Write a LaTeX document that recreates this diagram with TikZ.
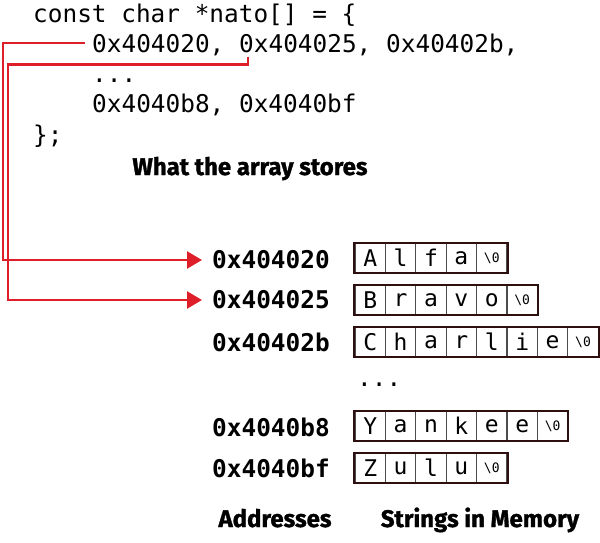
\documentclass[tikz,border=0pt]{standalone}
\usepackage{fontspec}
\usepackage{tikz}
\usepackage{xcolor}
\usetikzlibrary{
    arrows.meta,
    calc
}
\setmonofont{DejaVu Sans Mono}
\newfontfamily\labelfont{Fira Sans}[BoldFeatures={FakeBold=1.3}]
\definecolor{ptrred}{RGB}{222,30,40}
\definecolor{boxedge}{RGB}{45,15,15}
\newcommand{\nulchar}{{\fontsize{13}{13}\selectfont\textbackslash0}}

\tikzset{
    code/.style={font=\ttfamily\fontsize{24.4}{24.4}\selectfont, inner sep=0pt, anchor=base west},
    addr/.style={font=\ttfamily\bfseries\fontsize{24.4}{24.4}\selectfont, inner sep=0pt, anchor=west},
    cell/.style={draw=black!70, line width=1.1pt, fill=white, minimum width=30.4pt, minimum height=29pt,
        inner sep=0pt, font=\ttfamily\fontsize{23}{23}\selectfont},
    rowbox/.style={draw=boxedge, line width=2pt},
    caption/.style={font=\labelfont\bfseries\fontsize{24}{24}\selectfont, inner sep=0pt, anchor=base},
    ptr/.style={draw=ptrred, line width=2.4pt, -{Triangle[length=15pt,width=17pt]}}
}

\begin{document}
\begin{tikzpicture}[x=1pt, y=-1pt]
    \useasboundingbox (0, 0) rectangle (600, 543);

    % the source code
    \node[code] (l1) at (33, 23) {const char *nato[] = \{};
    \node[code] (v1) at (92, 53) {0x404020,};
    \node[code] (v2) at (239, 53) {0x404025,};
    \node[code] (v3) at (386, 53) {0x40402b,};
    \node[code] (l3) at (92, 83) {...};
    \node[code] (l4) at (92, 113) {0x4040b8, 0x4040bf};
    \node[code] (l5) at (33, 143) {\};};

    \node[caption] (stores) at (250, 175) {What the array stores};

    % addresses
    \node[addr] (a1) at (212, 260) {0x404020};
    \node[addr] (a2) at (212, 300) {0x404025};
    \node[addr] (a3) at (212, 342) {0x40402b};
    \node[addr] (a4) at (212, 427) {0x4040b8};
    \node[addr] (a5) at (212, 468) {0x4040bf};
    \node[code] (dots) at (357, 386) {...};

    % strings in memory
    \foreach \r/\y/\n/\w in {1/258/5/{A,l,f,a,\nulchar}, 2/300/6/{B,r,a,v,o,\nulchar},
            3/342/8/{C,h,a,r,l,i,e,\nulchar}, 4/426/7/{Y,a,n,k,e,e,\nulchar}, 5/468/5/{Z,u,l,u,\nulchar}} {
        \foreach \c [count=\i] in \w
            \node[cell] (s\r-\i) at (339.8+30.4*\i, \y) {\c};
        \draw[rowbox] (s\r-1.north west) rectangle (s\r-\n.south east);
    }

    % pointers
    \draw[ptr] ([shift={(-7,-10)}]v1.base west) -- ++(-82, 0) |- ([xshift=-10pt]a1.west);
    \draw[ptr] ([shift={(9,4)}]v2.base west) |- ++(-240, 7.5) |- ([xshift=-10pt]a2.west);

    \node[caption] (addrs) at (275, 527) {Addresses};
    \node[caption] (mem) at (480, 527) {Strings in Memory};
\end{tikzpicture}
\end{document}
